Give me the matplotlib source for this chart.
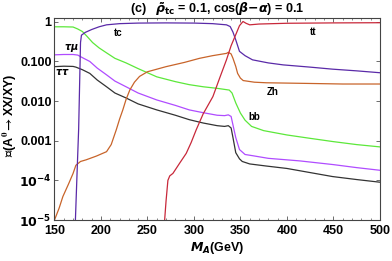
import numpy as np
import matplotlib.pyplot as plt
from matplotlib.ticker import MultipleLocator, FixedLocator, NullLocator

plt.rcParams['font.family'] = ['Liberation Sans', 'DejaVu Sans']
plt.rcParams['font.weight'] = 'bold'
plt.rcParams['mathtext.fontset'] = 'dejavusans'

# values
bb_x = [150, 160, 170, 175, 180, 185, 191, 198, 206, 215, 227, 240, 260, 280, 295, 310, 325, 338, 341, 345, 350, 355, 362, 375, 400, 425, 450, 475, 500]
bb_y = [0.75, 0.75, 0.74, 0.66, 0.57, 0.43, 0.30, 0.22, 0.165, 0.12, 0.092, 0.066, 0.041, 0.031, 0.026, 0.023, 0.021, 0.019, 0.016, 0.009, 0.005, 0.0033, 0.0023, 0.0018, 0.0014, 0.00115, 0.00095, 0.0008, 0.0007]

tc_x = [172.5, 174, 176, 178, 179, 183, 190, 198, 206, 220, 240, 270, 300, 320, 335, 339, 342, 345, 349, 355, 363, 380, 396, 425, 449, 475, 500]
tc_y = [1e-5, 1e-4, 0.002, 0.3, 0.46, 0.54, 0.64, 0.75, 0.84, 0.9, 0.93, 0.94, 0.93, 0.9, 0.84, 0.76, 0.55, 0.35, 0.18, 0.14, 0.11, 0.092, 0.082, 0.072, 0.064, 0.058, 0.052]

tm_x = [150, 160, 170, 175, 180, 188, 196, 206, 215, 227, 240, 260, 280, 295, 310, 325, 333, 337, 340, 342, 345, 349, 355, 363, 380, 414, 450, 475, 500]
tm_y = [0.147, 0.15, 0.15, 0.145, 0.125, 0.10, 0.068, 0.046, 0.032, 0.023, 0.016, 0.0107, 0.0078, 0.006, 0.0051, 0.0044, 0.0043, 0.0045, 0.0041, 0.0025, 0.0012, 0.0006, 0.00045, 0.00042, 0.00036, 0.00031, 0.00025, 0.00021, 0.00018]

tt_x = [150, 160, 170, 173, 180, 188, 196, 206, 215, 227, 240, 260, 280, 295, 310, 325, 333, 337, 340, 342, 345, 349, 352, 360, 378, 400, 449, 475, 500]
tt_y = [0.074, 0.076, 0.075, 0.072, 0.062, 0.05, 0.034, 0.023, 0.016, 0.012, 0.0085, 0.006, 0.0044, 0.0034, 0.0028, 0.0024, 0.0023, 0.0024, 0.0021, 0.0012, 0.0005, 0.00035, 0.0003, 0.00026, 0.00023, 0.0002, 0.000125, 0.000105, 0.00009]

zh_x = [150, 155, 159, 165, 170, 173, 178, 184, 195, 206, 211, 216.5, 220, 223.5, 227, 231, 236, 241.5, 250, 270, 290, 306, 320, 335, 337, 340, 342, 345, 347, 350, 353, 365, 378, 420, 460, 500]
zh_y = [1e-5, 2e-5, 3.9e-5, 8e-5, 1.5e-4, 2.4e-4, 3e-4, 3.3e-4, 4.1e-4, 5.3e-4, 8e-4, 0.0019, 0.0035, 0.006, 0.011, 0.019, 0.03, 0.042, 0.055, 0.074, 0.095, 0.12, 0.14, 0.16, 0.17, 0.155, 0.12, 0.075, 0.05, 0.038, 0.033, 0.03, 0.029, 0.028, 0.027, 0.027]

tq_x = [268.5, 270, 272, 274, 277.4, 285, 291.7, 297, 302.5, 310, 320.4, 328, 335, 340, 345.7, 349, 352.8, 356, 360, 370, 400, 450, 500]
tq_y = [1e-5, 3e-5, 1e-4, 1.3e-4, 1.5e-4, 2.8e-4, 4.8e-4, 9e-4, 0.0019, 0.0048, 0.013, 0.04, 0.11, 0.25, 0.52, 0.8, 1.02, 0.92, 0.84, 0.88, 0.92, 0.94, 0.95]

yticks = [1e-5, 1e-4, 1e-3, 1e-2, 0.1, 1]
ytick_labels = [r'$\mathbf{10^{-5}}$', r'$\mathbf{10^{-4}}$', '0.001', '0.010', '0.100', '1']

fig = plt.figure(figsize=(3.92, 2.61), dpi=100)
ax = fig.add_axes([0.139, 0.157, 0.830, 0.773])

ax.plot(bb_x, bb_y, color='#5ce83a', lw=0.9)
ax.plot(tm_x, tm_y, color='#b04cff', lw=0.9)
ax.plot(tt_x, tt_y, color='#333333', lw=0.9)
ax.plot(zh_x, zh_y, color='#c8642a', lw=0.9)
ax.plot(tc_x, tc_y, color='#5a2aa8', lw=0.9)
ax.plot(tq_x, tq_y, color='#c8283a', lw=0.9)

ax.set_yscale('log')
ax.set_xlim(150, 500)
ax.set_ylim(1e-5, 1.23)
ax.yaxis.set_major_locator(FixedLocator(yticks))
ax.set_yticklabels(ytick_labels)
ax.yaxis.set_minor_locator(NullLocator())
ax.xaxis.set_major_locator(MultipleLocator(50))
ax.xaxis.set_minor_locator(MultipleLocator(10))
ax.tick_params(which='both', direction='in', top=True, right=True, labelsize=9, color='#555555')
ax.tick_params(which='major', length=3, width=0.6)
ax.tick_params(which='minor', length=1.5, width=0.5)
ax.tick_params(axis='y', pad=2)
for s in ax.spines.values():
    s.set_color('#444444')
    s.set_linewidth(0.8)

lab = dict(fontsize=7, fontweight='bold', ha='center', va='center')
ax.text(218, 0.53, 'tc', **lab)
ax.text(428, 0.56, 'tt', **lab)
ax.text(168.5, 0.22, r'$\tau\mu$', **lab)
ax.text(159, 0.054, r'$\tau\tau$', **lab)
ax.text(385, 0.017, 'Zh', **lab)
ax.text(365, 0.004, 'bb', **lab)

ax.set_title(r'(c)   $\tilde{\rho}_{\mathbf{tc}}$ = 0.1, cos($\beta$$-$$\alpha$) = 0.1', fontsize=9, fontweight='bold', pad=3)
ax.set_xlabel(r'$M_A$(GeV)', fontsize=9, fontweight='bold', labelpad=2)
ax.set_ylabel(r'$\mathcal{B}$(A$^0$$\rightarrow$XX/XY)', fontsize=9, fontweight='bold',
              math_fontfamily='stix')
ax.yaxis.set_label_coords(-0.108, 0.52)

fig.savefig('out.png', dpi=100)
